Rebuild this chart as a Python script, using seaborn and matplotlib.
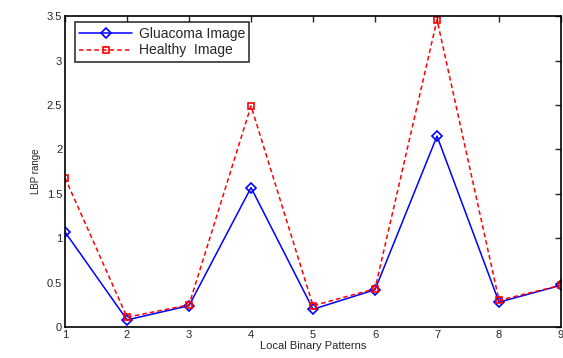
import numpy as np
import pandas as pd
import seaborn as sns
import matplotlib.pyplot as plt

patterns = [1, 2, 3, 4, 5, 6, 7, 8, 9]
glaucoma = [1.07, 0.08, 0.24, 1.57, 0.20, 0.42, 2.15, 0.28, 0.47]
healthy = [1.68, 0.11, 0.25, 2.49, 0.24, 0.43, 3.46, 0.30, 0.47]

sns.set_style("white")
plt.rcParams['font.family'] = ['Liberation Sans', 'DejaVu Sans']

fig = plt.figure(figsize=(5.63, 3.58), dpi=100)
ax = fig.add_axes([0.1155, 0.0866, 0.881, 0.868])

df = pd.DataFrame({'Local Binary Patterns': patterns, 'Gluacoma Image': glaucoma, 'Healthy  Image': healthy})

sns.lineplot(data=df, x='Local Binary Patterns', y='Gluacoma Image', ax=ax, color='blue',
             marker='D', markersize=5, markerfacecolor='none', markeredgecolor='blue',
             markeredgewidth=1.2, linewidth=1.1, label='Gluacoma Image')
sns.lineplot(data=df, x='Local Binary Patterns', y='Healthy  Image', ax=ax, color='red',
             marker='s', markersize=5, markerfacecolor='none', markeredgecolor='red',
             markeredgewidth=1.2, linewidth=1.1, dashes=False, label='Healthy  Image')
ax.lines[1].set_dashes([3, 2])

ax.set_xlim(1, 9)
ax.set_ylim(0, 3.5)
ax.set_xticks(patterns)
ax.set_yticks(np.arange(0, 3.6, 0.5))
ax.set_yticklabels(['0', '0.5', '1', '1.5', '2', '2.5', '3', '3.5'])
ax.tick_params(direction='in', length=4, width=1, top=True, right=True, labelsize=8, pad=2)
for s in ax.spines.values():
    s.set_color('black')
    s.set_linewidth(1.2)

ax.set_xlabel('Local Binary Patterns', fontsize=8, labelpad=1)
ax.set_ylabel('LBP range', fontsize=7, labelpad=4)

leg = ax.legend(loc='upper left', bbox_to_anchor=(0.02, 0.98), fontsize=10, frameon=True,
                fancybox=False, edgecolor='black', borderaxespad=0, handlelength=3.8,
                borderpad=0.3, labelspacing=0.2, handletextpad=0.5)
leg.get_frame().set_linewidth(1.2)
leg.get_lines()[1].set_dashes([3, 2])

plt.savefig('out.png', dpi=100)
